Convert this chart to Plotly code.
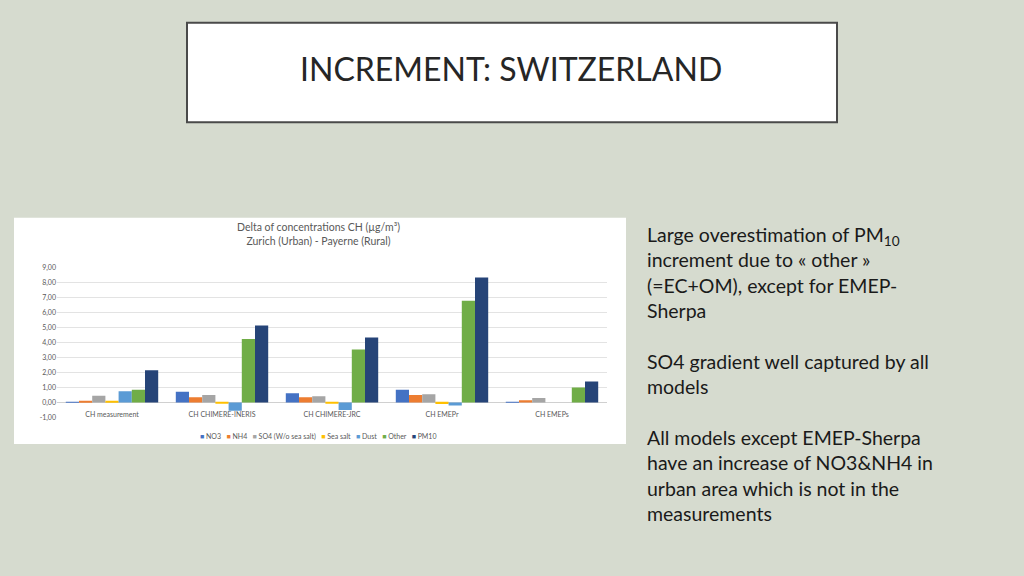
import plotly.graph_objects as go

# Categories (models / measurement) and component values in ug/m3
categories = ['CH measurement', 'CH CHIMERE-INERIS', 'CH CHIMERE-JRC', 'CH EMEPr', 'CH EMEPs']
no3 = [0.02, 0.72, 0.62, 0.85, 0.03]
nh4 = [0.05, 0.35, 0.35, 0.5, 0.15]
so4 = [0.45, 0.5, 0.42, 0.55, 0.3]
sea_salt = [0.12, -0.05, -0.05, -0.1, 0.0]
dust = [0.75, -0.55, -0.5, -0.2, 0.0]
other = [0.85, 4.25, 3.55, 6.8, 1.0]
pm10 = [2.15, 5.15, 4.35, 8.35, 1.4]

series_names = ['NO3', 'NH4', 'SO4 (W/o sea salt)', 'Sea salt', 'Dust', 'Other', 'PM10']
series_values = [no3, nh4, so4, sea_salt, dust, other, pm10]
series_colors = ['#4472C4', '#ED7D31', '#A5A5A5', '#FFC000', '#5B9BD5', '#70AD47', '#264478']

y_ticks = [-1, 0, 1, 2, 3, 4, 5, 6, 7, 8, 9]
y_tick_labels = ['-1,00', '0,00', '1,00', '2,00', '3,00', '4,00', '5,00',
                 '6,00', '7,00', '8,00', '9,00']

W, H = 1024, 576
GREY = '#595959'

fig = go.Figure()
for name, vals, col in zip(series_names, series_values, series_colors):
    fig.add_trace(go.Bar(name=name, x=categories, y=vals, showlegend=False,
                         marker=dict(color=col, line=dict(width=0))))

fig.update_layout(
    width=W, height=H,
    margin=dict(l=0, r=0, t=0, b=0),
    paper_bgcolor='#d6dbcf',
    plot_bgcolor='rgba(0,0,0,0)',
    barmode='group',
    bargap=0.16,
    bargroupgap=0.0,
    xaxis=dict(domain=[57 / W, 607 / W], showgrid=False, zeroline=False,
               tickfont=dict(family='Lato', size=7, color=GREY),
               ticklabelstandoff=-8, showline=False),
    yaxis=dict(domain=[1 - 419 / H, 1 - 267 / H], range=[-1, 9],
               tickvals=y_ticks, ticktext=y_tick_labels,
               tickfont=dict(family='Lato', size=7, color=GREY),
               showgrid=True, gridcolor='#e3e3e3', gridwidth=1,
               zeroline=True, zerolinecolor='#d0d0d0', zerolinewidth=1),
    font=dict(family='Lato'),
)

# title box on the slide
fig.add_shape(type='rect', xref='paper', yref='paper',
              x0=187 / W, x1=837 / W, y0=1 - 119 / H, y1=1 - 18 / H,
              fillcolor='white', line=dict(color='#4a4a4a', width=2), layer='below')
fig.add_annotation(text='INCREMENT: SWITZERLAND', xref='paper', yref='paper',
                   x=511 / W, y=1 - 64 / H, xanchor='center', yanchor='middle',
                   showarrow=False, font=dict(family='Lato', size=32, color='#262626'))

# white area of the chart picture
fig.add_shape(type='rect', xref='paper', yref='paper',
              x0=14 / W, x1=626 / W, y0=1 - 446 / H, y1=1 - 216 / H,
              fillcolor='white', line=dict(width=0), layer='below')
fig.add_annotation(text='Delta of concentrations CH (µg/m³)<br>Zurich (Urban) - Payerne (Rural)',
                   xref='paper', yref='paper', x=318 / W, y=1 - 233 / H,
                   xanchor='center', yanchor='middle',
                   showarrow=False, font=dict(family='Lato', size=10.5, color=GREY))

# compact legend row, built from the series names and colours
legend_text = '   '.join('<span style="color:%s">■</span> %s' % (c, n)
                          for n, c in zip(series_names, series_colors))
fig.add_annotation(text=legend_text, xref='paper', yref='paper', x=318 / W, y=1 - 438 / H,
                   xanchor='center', yanchor='middle', showarrow=False,
                   font=dict(family='Lato', size=7, color=GREY))

# commentary text on the right
comment = ('Large overestimation of PM<sub>10</sub><br>increment due to « other »<br>'
           '(=EC+OM), except for EMEP-<br>Sherpa<br><br>'
           'SO4 gradient well captured by all<br>models<br><br>'
           'All models except EMEP-Sherpa<br>have an increase of NO3&amp;NH4 in<br>'
           'urban area which is not in the<br>measurements')
fig.add_annotation(text=comment, xref='paper', yref='paper', x=645 / W, y=1 - 219 / H,
                   xanchor='left', yanchor='top', align='left', showarrow=False,
                   font=dict(family='Lato', size=19.5, color='#1a1a1a'))

fig.write_html('out.html', config={'displayModeBar': False},
               post_script="document.body.style.margin='0';"
                           "document.body.style.overflow='hidden';")
